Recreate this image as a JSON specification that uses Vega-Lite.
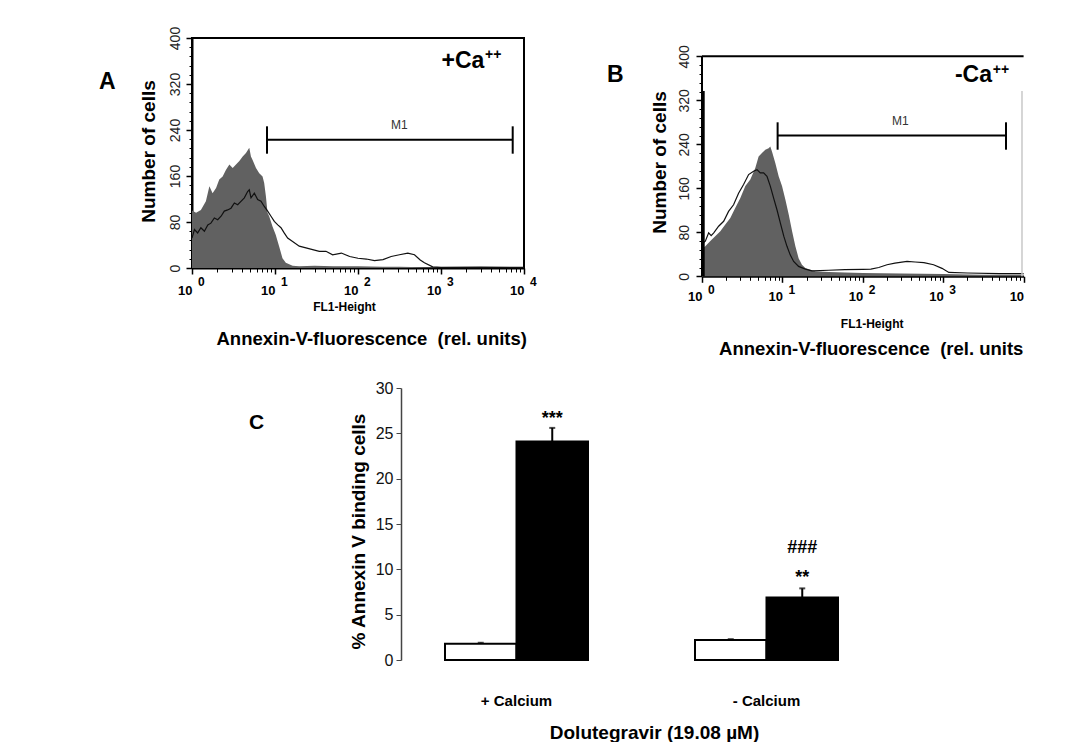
{
  "$schema": "https://vega.github.io/schema/vega-lite/v6.json",
  "background": "white",
  "padding": {"left": 98, "top": 25, "right": 5, "bottom": 0},
  "config": {
    "view": {"stroke": null},
    "font": "Liberation Sans",
    "axis": {"labelFont": "Liberation Sans", "titleFont": "Liberation Sans", "grid": false},
    "title": {"font": "Liberation Sans"},
    "text": {"font": "Liberation Sans"}
  },
  "datasets": {
    "histA_gray": [{"fl1":1,"count":100},{"fl1":1.12,"count":96},{"fl1":1.28,"count":101},{"fl1":1.47,"count":116},{"fl1":1.62,"count":142},{"fl1":1.77,"count":130},{"fl1":1.95,"count":139},{"fl1":2.13,"count":154},{"fl1":2.34,"count":159},{"fl1":2.57,"count":171},{"fl1":2.82,"count":180},{"fl1":3.09,"count":174},{"fl1":3.39,"count":180},{"fl1":3.72,"count":186},{"fl1":4.08,"count":194},{"fl1":4.47,"count":200},{"fl1":4.9,"count":209},{"fl1":5.13,"count":194},{"fl1":5.37,"count":188},{"fl1":5.9,"count":174},{"fl1":6.46,"count":165},{"fl1":7.08,"count":159},{"fl1":7.41,"count":148},{"fl1":7.77,"count":125},{"fl1":8.13,"count":96},{"fl1":8.51,"count":90},{"fl1":9.33,"count":72},{"fl1":10.2,"count":58},{"fl1":11.2,"count":38},{"fl1":12.3,"count":17},{"fl1":13.5,"count":9},{"fl1":16.3,"count":4},{"fl1":19.6,"count":3},{"fl1":30,"count":4},{"fl1":50,"count":3},{"fl1":100,"count":3},{"fl1":200,"count":2},{"fl1":316,"count":2},{"fl1":600,"count":1.5},{"fl1":1000,"count":1},{"fl1":2000,"count":0.5},{"fl1":10000,"count":0}],
    "histA_line": [{"fl1":1,"count":52},{"fl1":1.07,"count":67},{"fl1":1.17,"count":61},{"fl1":1.28,"count":70},{"fl1":1.41,"count":64},{"fl1":1.55,"count":75},{"fl1":1.69,"count":78},{"fl1":1.86,"count":87},{"fl1":2.04,"count":84},{"fl1":2.24,"count":90},{"fl1":2.45,"count":99},{"fl1":2.69,"count":101},{"fl1":2.95,"count":104},{"fl1":3.24,"count":113},{"fl1":3.55,"count":110},{"fl1":3.89,"count":116},{"fl1":4.27,"count":122},{"fl1":4.68,"count":133},{"fl1":4.9,"count":136},{"fl1":5.14,"count":122},{"fl1":5.64,"count":130},{"fl1":6.18,"count":119},{"fl1":6.78,"count":116},{"fl1":7.43,"count":107},{"fl1":8.16,"count":99},{"fl1":8.95,"count":90},{"fl1":9.81,"count":81},{"fl1":10.8,"count":75},{"fl1":11.8,"count":70},{"fl1":12.9,"count":61},{"fl1":14.2,"count":52},{"fl1":16.3,"count":46},{"fl1":19.6,"count":38},{"fl1":23.6,"count":35},{"fl1":28.4,"count":32},{"fl1":34.2,"count":29},{"fl1":41.1,"count":29},{"fl1":49.5,"count":23},{"fl1":63.1,"count":26},{"fl1":79.4,"count":20},{"fl1":100,"count":17},{"fl1":126,"count":15.6},{"fl1":158,"count":13},{"fl1":200,"count":14.5},{"fl1":251,"count":20},{"fl1":316,"count":23},{"fl1":398,"count":26},{"fl1":479,"count":23},{"fl1":562,"count":14},{"fl1":631,"count":9},{"fl1":794,"count":2},{"fl1":1000,"count":1},{"fl1":3000,"count":1.5},{"fl1":10000,"count":1}],
    "histB_gray": [{"fl1":1,"count":50},{"fl1":1.1,"count":54.5},{"fl1":1.27,"count":64},{"fl1":1.46,"count":73},{"fl1":1.69,"count":82},{"fl1":1.95,"count":94},{"fl1":2.25,"count":106},{"fl1":2.59,"count":124},{"fl1":2.99,"count":142},{"fl1":3.46,"count":164},{"fl1":3.99,"count":176},{"fl1":4.6,"count":197},{"fl1":5.06,"count":218},{"fl1":5.57,"count":224},{"fl1":6.13,"count":230},{"fl1":6.74,"count":233},{"fl1":7.07,"count":236},{"fl1":7.42,"count":227},{"fl1":8.16,"count":206},{"fl1":8.98,"count":182},{"fl1":9.89,"count":164},{"fl1":10.9,"count":139},{"fl1":12,"count":112},{"fl1":13.2,"count":82},{"fl1":14.5,"count":54.5},{"fl1":15.9,"count":33},{"fl1":17.5,"count":21},{"fl1":19.3,"count":15},{"fl1":22.2,"count":12},{"fl1":25.7,"count":9},{"fl1":37.6,"count":8},{"fl1":60,"count":7},{"fl1":100,"count":6},{"fl1":300,"count":5},{"fl1":1000,"count":4},{"fl1":3000,"count":3},{"fl1":10000,"count":3}],
    "histB_line": [{"fl1":1.02,"count":60},{"fl1":1.1,"count":64},{"fl1":1.21,"count":79},{"fl1":1.3,"count":74},{"fl1":1.4,"count":79},{"fl1":1.61,"count":91},{"fl1":1.86,"count":100},{"fl1":2.14,"count":118},{"fl1":2.47,"count":130},{"fl1":2.85,"count":151},{"fl1":3.29,"count":167},{"fl1":3.8,"count":185},{"fl1":4.38,"count":191},{"fl1":4.83,"count":194},{"fl1":5.31,"count":188},{"fl1":5.84,"count":188},{"fl1":6.43,"count":182},{"fl1":7.07,"count":164},{"fl1":7.78,"count":142},{"fl1":8.56,"count":121},{"fl1":9.42,"count":97},{"fl1":10.4,"count":73},{"fl1":11.4,"count":54.5},{"fl1":12.5,"count":39},{"fl1":13.8,"count":27},{"fl1":15.9,"count":18},{"fl1":19.3,"count":13},{"fl1":23.3,"count":10},{"fl1":37.6,"count":11},{"fl1":60,"count":12},{"fl1":100,"count":12.7},{"fl1":126,"count":13},{"fl1":158,"count":16},{"fl1":200,"count":21},{"fl1":251,"count":24},{"fl1":355,"count":27},{"fl1":447,"count":26},{"fl1":575,"count":25},{"fl1":759,"count":21},{"fl1":966,"count":14.5},{"fl1":1175,"count":7},{"fl1":2000,"count":6},{"fl1":5000,"count":5},{"fl1":10000,"count":5}],
    "bars": [
      {"calcium":"+ Calcium","treatment":"Control","pct":1.8,"upper":1.9},
      {"calcium":"+ Calcium","treatment":"Dolutegravir","pct":24.1,"upper":25.6},
      {"calcium":"- Calcium","treatment":"Control","pct":2.2,"upper":2.3},
      {"calcium":"- Calcium","treatment":"Dolutegravir","pct":6.9,"upper":7.9}
    ],
    "signif": [
      {"calcium":"+ Calcium","treatment":"Dolutegravir","label":"***","pos":26.0},
      {"calcium":"- Calcium","treatment":"Dolutegravir","label":"**","pos":8.5},
      {"calcium":"- Calcium","treatment":"Dolutegravir","label":"###","pos":11.8}
    ]
  },
  "spacing": 21,
  "vconcat": [
    {
      "spacing": 69,
      "hconcat": [
        {
          "title": {"text": "A", "orient": "top", "anchor": "start", "frame": "group", "offset": 0, "dx": -93, "dy": 68, "fontSize": 23, "fontWeight": "bold", "color": "black"},
          "width": 332,
          "height": 230,
          "view": {"stroke": "black", "strokeWidth": 2},
          "resolve": {"axis": {"x": "independent", "y": "independent"}},
          "layer": [
            {
              "data": {"name": "histA_gray"},
              "mark": {"type": "area", "color": "#616161"},
              "encoding": {
                "x": {"field": "fl1", "type": "quantitative", "scale": {"type": "log", "domain": [1, 10000], "nice": false},
                  "axis": {"orient": "bottom", "values": [1, 10, 100, 1000, 10000], "labelExpr": "'10'", "labelAlign": "right", "labelBaseline": "alphabetic", "labelPadding": 20.3, "tickSize": 6, "tickWidth": 1.5, "tickColor": "black", "domainColor": "black", "domainWidth": 2, "labelFontSize": 13, "labelFontWeight": "bold", "labelColor": "black", "labelFlush": false, "labelOverlap": false,
                    "title": "FL1-Height", "titleFontSize": 12, "titleFontWeight": "bold", "titleColor": "black", "titleX": 120.7, "titleY": 42.3, "titleAlign": "left", "titleBaseline": "alphabetic"}},
                "y": {"field": "count", "type": "quantitative", "scale": {"domain": [0, 400], "nice": false},
                  "axis": {"orient": "left", "values": [0, 80, 160, 240, 320, 400], "labelAngle": -90, "labelAlign": "center", "labelBaseline": "bottom", "labelPadding": 3.7, "tickSize": 6, "tickWidth": 1.5, "tickColor": "black", "domainColor": "black", "domainWidth": 2, "labelFontSize": 14, "labelColor": "#222", "labelFlush": false, "labelOverlap": false,
                    "title": "Number of cells", "titleFontSize": 19, "titleFontWeight": "bold", "titleColor": "black", "titleX": -44, "titleY": 113, "titleAngle": -90, "titleAlign": "center", "titleBaseline": "middle"}}
              }
            },
            {
              "data": {"name": "histA_line"},
              "mark": {"type": "line", "color": "#111", "strokeWidth": 1.2},
              "encoding": {
                "x": {"field": "fl1", "type": "quantitative",
                  "axis": {"orient": "bottom", "values": [1, 10, 100, 1000, 10000], "labelExpr": "'' + round(log(datum.value) / LN10)", "labelAlign": "left", "labelBaseline": "alphabetic", "labelPadding": 17.9, "labelOffset": 5.5, "ticks": false, "domain": false, "labelFontSize": 12, "labelFontWeight": "bold", "labelColor": "black", "labelFlush": false, "labelOverlap": false,
                    "title": "Annexin-V-fluorescence\u00a0 (rel. units)", "titleFontSize": 18.5, "titleFontWeight": "bold", "titleColor": "black", "titleX": 24, "titleY": 76.7, "titleAlign": "left", "titleBaseline": "alphabetic"}},
                "y": {"field": "count", "type": "quantitative",
                  "axis": {"orient": "left", "values": [16, 32, 48, 64, 96, 112, 128, 144, 176, 192, 208, 224, 256, 272, 288, 304, 336, 352, 368, 384], "labels": false, "tickSize": 3, "tickWidth": 1, "tickColor": "black", "domain": false, "title": null}}
              }
            },
            {
              "data": {"values": [{"x1": 8.01, "x2": 7310, "y": 223.1}]},
              "mark": {"type": "rule", "color": "black", "strokeWidth": 2},
              "encoding": {
                "x": {"field": "x1", "type": "quantitative",
                  "axis": {"orient": "bottom", "values": [2, 3, 4, 5, 6, 7, 8, 9, 20, 30, 40, 50, 60, 70, 80, 90, 200, 300, 400, 500, 600, 700, 800, 900, 2000, 3000, 4000, 5000, 6000, 7000, 8000, 9000], "labels": false, "tickSize": 4, "tickWidth": 1, "tickColor": "black", "domain": false, "title": null}},
                "x2": {"field": "x2"},
                "y": {"field": "y", "type": "quantitative", "axis": null}
              }
            },
            {
              "data": {"values": [{"x": 8.01, "y1": 198.8, "y2": 246.4}, {"x": 7310, "y1": 198.8, "y2": 246.4}]},
              "mark": {"type": "rule", "color": "black", "strokeWidth": 2},
              "encoding": {
                "x": {"field": "x", "type": "quantitative", "axis": null},
                "y": {"field": "y1", "type": "quantitative", "axis": null},
                "y2": {"field": "y2"}
              }
            },
            {
              "data": {"values": [{"x": 314.6, "y": 241.7, "label": "M1"}]},
              "mark": {"type": "text", "fontSize": 12, "color": "#333", "align": "center", "baseline": "alphabetic"},
              "encoding": {
                "x": {"field": "x", "type": "quantitative", "axis": null},
                "y": {"field": "y", "type": "quantitative", "axis": null},
                "text": {"field": "label"}
              }
            },
            {
              "data": {"values": [{"x": 3330, "y": 348, "label": "+Ca"}]},
              "mark": {"type": "text", "fontSize": 23, "fontWeight": "bold", "color": "black", "align": "right", "baseline": "alphabetic"},
              "encoding": {
                "x": {"field": "x", "type": "quantitative", "axis": null},
                "y": {"field": "y", "type": "quantitative", "axis": null},
                "text": {"field": "label"}
              }
            },
            {
              "data": {"values": [{"x": 3390, "y": 363.5, "label": "++"}]},
              "mark": {"type": "text", "fontSize": 14, "fontWeight": "bold", "color": "black", "align": "left", "baseline": "alphabetic"},
              "encoding": {
                "x": {"field": "x", "type": "quantitative", "axis": null},
                "y": {"field": "y", "type": "quantitative", "axis": null},
                "text": {"field": "label"}
              }
            }
          ]
        },
        {
          "title": {"text": "B", "orient": "top", "anchor": "start", "frame": "group", "offset": 0, "dx": -95, "dy": 49, "fontSize": 23, "fontWeight": "bold", "color": "black"},
          "width": 321.6,
          "height": 238.3,
          "resolve": {"axis": {"x": "independent", "y": "independent"}},
          "layer": [
            {
              "data": {"name": "histB_gray"},
              "mark": {"type": "area", "color": "#616161"},
              "encoding": {
                "x": {"field": "fl1", "type": "quantitative", "scale": {"type": "log", "domain": [1, 10000], "nice": false},
                  "axis": {"orient": "bottom", "values": [1, 10, 100, 1000, 10000], "labelExpr": "'10'", "labelAlign": "right", "labelBaseline": "alphabetic", "labelPadding": 18.4, "tickSize": 6, "tickWidth": 1.5, "tickColor": "black", "domainColor": "black", "domainWidth": 2, "labelFontSize": 13, "labelFontWeight": "bold", "labelColor": "black", "labelFlush": false, "labelOverlap": false,
                    "title": "FL1-Height", "titleFontSize": 12, "titleFontWeight": "bold", "titleColor": "black", "titleX": 138.3, "titleY": 51, "titleAlign": "left", "titleBaseline": "alphabetic"}},
                "y": {"field": "count", "type": "quantitative", "scale": {"domain": [0, 433.3], "nice": false},
                  "axis": {"orient": "left", "values": [0, 80, 160, 240, 320, 400], "labelAngle": -90, "labelAlign": "center", "labelBaseline": "bottom", "labelPadding": 5, "tickSize": 6, "tickWidth": 1.5, "tickColor": "black", "domain": false, "labelFontSize": 14, "labelColor": "#222", "labelFlush": false, "labelOverlap": false,
                    "title": "Number of cells", "titleFontSize": 19, "titleFontWeight": "bold", "titleColor": "black", "titleX": -42.4, "titleY": 124, "titleAngle": -90, "titleAlign": "center", "titleBaseline": "middle"}}
              }
            },
            {
              "data": {"name": "histB_line"},
              "mark": {"type": "line", "color": "#111", "strokeWidth": 1.2},
              "encoding": {
                "x": {"field": "fl1", "type": "quantitative",
                  "axis": {"orient": "bottom", "values": [1, 10, 100, 1000], "labelExpr": "'' + round(log(datum.value) / LN10)", "labelAlign": "left", "labelBaseline": "alphabetic", "labelPadding": 16.7, "labelOffset": 5.5, "ticks": false, "domain": false, "labelFontSize": 12, "labelFontWeight": "bold", "labelColor": "black", "labelFlush": false, "labelOverlap": false,
                    "title": "Annexin-V-fluorescence\u00a0 (rel. units", "titleFontSize": 18.5, "titleFontWeight": "bold", "titleColor": "black", "titleX": 16.6, "titleY": 78.4, "titleAlign": "left", "titleBaseline": "alphabetic"}},
                "y": {"field": "count", "type": "quantitative",
                  "axis": {"orient": "left", "values": [16, 32, 48, 64, 96, 112, 128, 144, 176, 192, 208, 224, 256, 272, 288, 304, 336, 352, 368, 384], "labels": false, "tickSize": 3, "tickWidth": 1, "tickColor": "black", "domain": false, "title": null}}
              }
            },
            {
              "data": {"values": [{"x1": 8.72, "x2": 6040, "y": 256.2}, {"x1": 1, "x2": 10000, "y": 400}]},
              "mark": {"type": "rule", "color": "black", "strokeWidth": 2},
              "encoding": {
                "x": {"field": "x1", "type": "quantitative",
                  "axis": {"orient": "bottom", "values": [2, 3, 4, 5, 6, 7, 8, 9, 20, 30, 40, 50, 60, 70, 80, 90, 200, 300, 400, 500, 600, 700, 800, 900, 2000, 3000, 4000, 5000, 6000, 7000, 8000, 9000], "labels": false, "tickSize": 4, "tickWidth": 1, "tickColor": "black", "domain": false, "title": null}},
                "x2": {"field": "x2"},
                "y": {"field": "y", "type": "quantitative", "axis": null}
              }
            },
            {
              "data": {"values": [{"x": 8.72, "y1": 230.2, "y2": 280}, {"x": 6040, "y1": 230.2, "y2": 280}, {"x": 1, "y1": 0, "y2": 400}, {"x": 1.05, "y1": 0, "y2": 337}]},
              "mark": {"type": "rule", "color": "black", "strokeWidth": 2},
              "encoding": {
                "x": {"field": "x", "type": "quantitative", "axis": null},
                "y": {"field": "y1", "type": "quantitative", "axis": null},
                "y2": {"field": "y2"}
              }
            },
            {
              "data": {"values": [{"x": 9550, "y1": 0, "y2": 337}]},
              "mark": {"type": "rule", "color": "#c8c8c8", "strokeWidth": 1.5},
              "encoding": {
                "x": {"field": "x", "type": "quantitative", "axis": null},
                "y": {"field": "y1", "type": "quantitative", "axis": null},
                "y2": {"field": "y2"}
              }
            },
            {
              "data": {"values": [{"x": 292.6, "y": 275.6, "label": "M1"}]},
              "mark": {"type": "text", "fontSize": 12, "color": "#333", "align": "center", "baseline": "alphabetic"},
              "encoding": {
                "x": {"field": "x", "type": "quantitative", "axis": null},
                "y": {"field": "y", "type": "quantitative", "axis": null},
                "text": {"field": "label"}
              }
            },
            {
              "data": {"values": [{"x": 4045, "y": 352.7, "label": "-Ca"}]},
              "mark": {"type": "text", "fontSize": 23, "fontWeight": "bold", "color": "black", "align": "right", "baseline": "alphabetic"},
              "encoding": {
                "x": {"field": "x", "type": "quantitative", "axis": null},
                "y": {"field": "y", "type": "quantitative", "axis": null},
                "text": {"field": "label"}
              }
            },
            {
              "data": {"values": [{"x": 4140, "y": 367.8, "label": "++"}]},
              "mark": {"type": "text", "fontSize": 14, "fontWeight": "bold", "color": "black", "align": "left", "baseline": "alphabetic"},
              "encoding": {
                "x": {"field": "x", "type": "quantitative", "axis": null},
                "y": {"field": "y", "type": "quantitative", "axis": null},
                "text": {"field": "label"}
              }
            }
          ]
        }
      ]
    },
    {
      "spacing": 10,
      "hconcat": [
        {
          "width": 47,
          "height": 10,
          "data": {"values": [{"t": ""}]},
          "mark": "text",
          "encoding": {"text": {"field": "t"}}
        },
        {
          "title": {"text": "C", "orient": "top", "anchor": "start", "frame": "group", "offset": 0, "dx": -152, "dy": 52.5, "fontSize": 21, "fontWeight": "bold", "color": "black"},
          "width": 481,
          "height": 272,
          "encoding": {
            "x": {"field": "calcium", "type": "nominal", "sort": ["+ Calcium", "- Calcium"], "scale": {"paddingInner": 0.428, "paddingOuter": 0.176},
              "axis": {"orient": "bottom", "domain": false, "ticks": false, "tickSize": 0, "labelAngle": 0, "labelPadding": 45, "labelBaseline": "alphabetic", "labelFontSize": 15, "labelFontWeight": "bold", "labelColor": "black",
                "title": "Dolutegravir (19.08 µM)", "titleFontSize": 19, "titleFontWeight": "bold", "titleColor": "black", "titleX": 253, "titleY": 78.5, "titleAlign": "center", "titleBaseline": "alphabetic"}},
            "xOffset": {"field": "treatment", "type": "nominal", "sort": ["Control", "Dolutegravir"], "scale": {"paddingInner": 0, "paddingOuter": 0}}
          },
          "layer": [
            {
              "data": {"name": "bars"},
              "mark": {"type": "bar", "stroke": "black", "strokeWidth": 2},
              "encoding": {
                "y": {"field": "pct", "type": "quantitative", "scale": {"domain": [0, 30], "nice": false},
                  "axis": {"orient": "left", "values": [0, 5, 10, 15, 20, 25, 30], "tickSize": 5, "tickColor": "#444", "domainColor": "#444", "domainWidth": 1.5, "labelPadding": 3, "labelFontSize": 16, "labelColor": "#111", "labelFlush": false,
                    "title": "% Annexin V binding cells", "titleFontSize": 19, "titleFontWeight": "bold", "titleColor": "black", "titleX": -43, "titleY": 143, "titleAngle": -90, "titleAlign": "center", "titleBaseline": "middle"}},
                "fill": {"field": "treatment", "type": "nominal", "scale": {"domain": ["Control", "Dolutegravir"], "range": ["white", "black"]}, "legend": null}
              }
            },
            {
              "data": {"name": "bars"},
              "mark": {"type": "rule", "color": "black", "strokeWidth": 2},
              "encoding": {
                "y": {"field": "pct", "type": "quantitative", "title": "% Annexin V binding cells"},
                "y2": {"field": "upper"}
              }
            },
            {
              "data": {"name": "bars"},
              "mark": {"type": "tick", "orient": "horizontal", "size": 6, "thickness": 2, "color": "black"},
              "encoding": {
                "y": {"field": "upper", "type": "quantitative", "title": "% Annexin V binding cells"}
              }
            },
            {
              "data": {"name": "signif"},
              "mark": {"type": "text", "fontSize": 18, "fontWeight": "bold", "color": "black", "align": "center", "baseline": "alphabetic"},
              "encoding": {
                "y": {"field": "pos", "type": "quantitative", "title": "% Annexin V binding cells"},
                "text": {"field": "label"}
              }
            }
          ]
        }
      ]
    }
  ]
}
